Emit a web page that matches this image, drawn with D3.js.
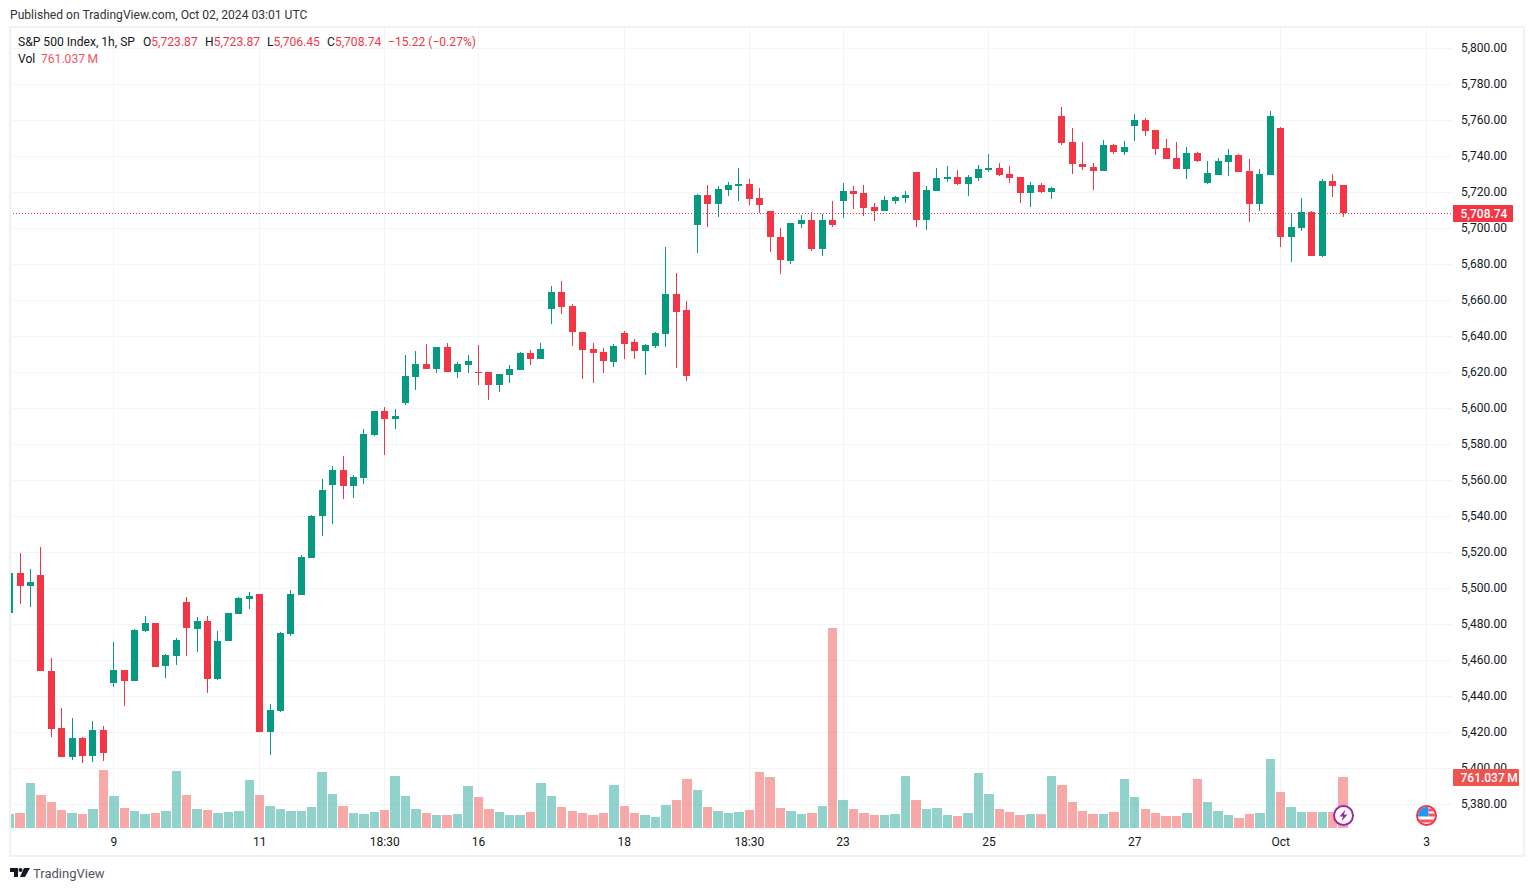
<!DOCTYPE html>
<html>
<head>
<meta charset="utf-8">
<script src="https://cdn.jsdelivr.net/npm/d3@7/dist/d3.min.js"></script>
<style>
  html, body { margin: 0; padding: 0; background: #fff; }
  svg { display: block; }
  text { font-family: Roboto, "Noto Sans", sans-serif; }
</style>
</head>
<body>
<svg width="1534" height="891"></svg>
<script>
// hourly candles
const opens = [
  5486.3,5508.5,5501.3,5507.4,5454.1,5422.4,5406.3,5416.8,5406.8,5421.3,
  5447.4,5454.6,5448.5,5476.3,5480.7,5456.8,5462.4,5492.4,5477.4,5481.8,
  5449.6,5470.7,5485.7,5494.1,5496.8,5420.2,5431.8,5474.6,5496.3,5516.8,
  5540.2,5557.4,5565.7,5556.8,5561.3,5585.2,5598.5,5594,5603,5617.4,
  5624.6,5621.8,5634.1,5620.2,5624.1,5620.2,5620.2,5612.9,5618.5,5621.3,
  5630.7,5627.4,5655.1,5664.6,5656.8,5642.3,5632.9,5631.2,5625.7,5641.8,
  5636.8,5631.8,5634.6,5641.2,5663.5,5654.6,5701.8,5718.5,5713.5,5721.2,
  5723.5,5724.6,5716.8,5709.6,5695.2,5681.9,5702.4,5704.6,5688.5,5704.6,
  5715.2,5720.7,5719.6,5711.9,5709.6,5715.2,5716.9,5731.3,5704.6,5720.7,
  5727.4,5728.5,5724.6,5728,5732.4,5733.5,5730.2,5728.5,5719.6,5724.1,
  5720.2,5762.4,5748,5735.7,5734.1,5731.9,5746.3,5742.4,5756.9,5760.2,
  5754.6,5744.6,5739.1,5733,5741.9,5725.2,5729.6,5736.9,5740.7,5731.9,
  5713.5,5729.6,5755.7,5695.2,5700.2,5709.1,5684.6,5726.3,5723.87
];
const highs = [
  5508.5,5519.6,5510.7,5523,5461.3,5433.5,5428,5417.4,5426.3,5423.5,
  5470.2,5454.6,5477.4,5484.6,5480.7,5463.5,5472.4,5495.2,5484.1,5484.6,
  5476.3,5486.3,5495.2,5498,5496.8,5435.7,5475.7,5499,5518.5,5540.7,
  5560.7,5568,5573.5,5563,5588.5,5598.5,5600.7,5599.6,5629.6,5631.8,
  5635.7,5634.1,5636.3,5625.7,5629.6,5635.2,5620.2,5619,5624,5631.3,
  5632.4,5636.3,5667.9,5670.7,5657.9,5642.3,5636.2,5633.4,5635.7,5642.9,
  5638.5,5635.7,5642.3,5689.6,5675.1,5659.6,5719,5724,5723.5,5725.7,
  5733.5,5727.3,5722.3,5709.6,5700.2,5703,5707.4,5709.1,5708,5715.2,
  5725.2,5723.5,5724.1,5714.1,5718,5718,5720.7,5731.3,5723.5,5733.5,
  5734.6,5732.4,5729.6,5735.2,5741.3,5736.3,5734.6,5728.5,5725.7,5725.2,
  5723,5767.4,5755.7,5748,5736.3,5749.1,5746.9,5748.5,5763.5,5761.3,
  5754.6,5749.6,5748,5745.2,5742.4,5737.4,5739.1,5744.1,5741.3,5738.5,
  5733,5765.2,5756.3,5708.3,5716.9,5709.6,5727.4,5730.2,5723.87
];
const lows = [
  5486.3,5491.3,5489.6,5454.1,5417.4,5406.3,5404.6,5403,5403.5,5404,
  5445.2,5434.6,5448.5,5475.7,5456.3,5450.2,5457.4,5462.4,5464.6,5441.9,
  5449.1,5470.7,5485.7,5488.5,5420.2,5407.4,5431.3,5473.5,5496.3,5516.8,
  5529.1,5535.7,5549.6,5550.2,5558,5584.6,5574.1,5588.5,5601.8,5610.2,
  5621.8,5619.6,5620.2,5616.8,5619.6,5612.9,5604.6,5609.1,5614.1,5621.3,
  5624.1,5627.4,5646.8,5652.3,5634.6,5616.2,5614,5619.6,5622.9,5627.3,
  5627.3,5618.5,5633.5,5634,5622.3,5615.1,5686.2,5700.7,5706.2,5717.9,
  5715.1,5712.9,5708.3,5686.8,5674.6,5680.2,5700.2,5687.4,5684.6,5700.7,
  5705.7,5710.7,5706.9,5704.1,5709.6,5713.5,5714.1,5700.7,5699.1,5720.7,
  5725.7,5724.1,5718,5726.3,5731.3,5729.1,5725.2,5714.1,5711.9,5719.6,
  5716.3,5746.3,5730.2,5732.4,5721.3,5731.9,5741.3,5740.7,5748.5,5751.3,
  5740.7,5738.5,5733,5727.4,5736.9,5724.6,5729.6,5729.1,5731.3,5703.5,
  5709.6,5729.6,5689.6,5681.3,5698.5,5684.6,5684.1,5717.4,5706.45
];
const closes = [
  5508.5,5501.3,5503.5,5454.1,5421.8,5406.3,5416.8,5406.8,5421.3,5408.5,
  5454.6,5448.5,5476.8,5480.7,5456.3,5463,5471.3,5478,5481.8,5449.6,
  5470.7,5486.3,5494.6,5495.7,5420.2,5432.4,5475.2,5496.8,5517.4,5540.2,
  5554.6,5565.7,5556.8,5561.8,5585.7,5598.5,5594,5595.7,5618,5624.6,
  5621.8,5634.1,5620.2,5624.6,5626.3,5619.6,5612.9,5619,5621.8,5630.7,
  5627.4,5632.9,5664.6,5656.2,5642.3,5632.3,5630.7,5626.2,5634.6,5635.7,
  5631.8,5635.1,5641.8,5663.5,5653.5,5617.9,5718.5,5713.5,5721.8,5724,
  5724.6,5716.2,5712.9,5695.1,5682.4,5703,5704.6,5688.5,5704.6,5701.9,
  5720.7,5719.1,5711.3,5709.6,5715.7,5717.4,5718.5,5704.6,5721.3,5728,
  5728.5,5724.6,5728.5,5733,5733.5,5729.6,5728,5719.6,5724.1,5720.2,
  5722.4,5747.4,5735.7,5734.1,5731.9,5746.3,5742.4,5745.2,5760.2,5754.1,
  5744.1,5738.5,5733,5741.9,5737.4,5730.7,5737.4,5740.7,5731.3,5713.5,
  5730.2,5762.4,5695.2,5700.7,5709.1,5684.6,5726.3,5723.5,5708.74
];
// volume in millions
const volumes = [
  210,225,675,495,390,270,225,210,285,870,
  480,300,255,210,225,255,855,495,285,270,
  225,240,255,720,495,330,285,255,255,315,
  840,510,330,225,210,240,270,780,480,285,
  225,195,195,210,630,465,285,240,195,195,
  240,675,480,315,255,225,195,225,645,330,
  225,195,165,345,420,735,570,315,255,225,
  240,270,840,765,300,255,210,225,330,2985,
  420,285,225,195,195,210,780,420,285,300,
  195,180,225,825,510,285,240,195,210,210,
  780,645,390,255,210,210,240,735,465,285,
  225,180,180,225,735,390,255,195,150,210,
  225,1035,540,315,240,240,240,240,761.037
];

const priceTicks = d3.range(5380, 5801, 20);
const timeTickIndex = [10, 24, 36, 45, 59, 71, 80, 94, 108, 122, 136];
const timeTickLabels = ["9", "11", "18:30", "16", "18", "18:30", "23", "25", "27", "Oct", "3"];

const lastClose = 5708.74;
const lastVolume = 761.037;

const green = "#089981";
const red = "#f23645";
const volGreen = "#26a69a";
const volRed = "#ef5350";
const frameColor = "#f0f0f5";
const gridColor = "#f3f4f6";

const svg = d3.select("svg");

const x = d3.scaleLinear().domain([10, 136]).range([113.3, 1426]);
const y = d3.scaleLinear().domain([5400, 5720]).range([768.3, 192.3]);
const yVol = d3.scaleLinear().domain([0, lastVolume]).range([828, 777]);

// everything snaps to whole pixels, like the original canvas
const col = (i) => Math.round(x(i));
const row = (p) => Math.round(y(p));

svg.append("defs").append("clipPath").attr("id", "pane")
  .append("rect").attr("x", 10).attr("y", 27).attr("width", 1442).attr("height", 801);

// title above the frame
svg.append("text").attr("x", 10).attr("y", 19)
  .attr("font-size", 12.1).attr("fill", "#333").text("Published on TradingView.com, Oct 02, 2024 03:01 UTC");

// grid
const grid = svg.append("g");
grid.selectAll("line.h").data(priceTicks).join("line").attr("class", "h")
  .attr("x1", 11).attr("x2", 1452)
  .attr("y1", (d) => Math.floor(y(d)) + 0.5).attr("y2", (d) => Math.floor(y(d)) + 0.5)
  .attr("stroke", gridColor).attr("stroke-width", 1);
grid.selectAll("line.v").data(timeTickIndex).join("line").attr("class", "v")
  .attr("x1", (d) => col(d) + 0.5).attr("x2", (d) => col(d) + 0.5)
  .attr("y1", 28).attr("y2", 828)
  .attr("stroke", gridColor).attr("stroke-width", 1);

const pane = svg.append("g").attr("clip-path", "url(#pane)");

// volume bars
pane.selectAll("rect.vol").data(volumes).join("rect").attr("class", "vol")
  .attr("x", (d, i) => Math.round(x(i) - 4.2))
  .attr("width", (d, i) => Math.round(x(i) + 5.2) - Math.round(x(i) - 4.2))
  .attr("y", (d) => Math.round(yVol(d)))
  .attr("height", (d) => 828 - Math.round(yVol(d)))
  .attr("fill", (d, i) => (closes[i] >= opens[i] ? volGreen : volRed))
  .attr("fill-opacity", 0.5);

// last price line
pane.append("line")
  .attr("x1", 10).attr("x2", 1452)
  .attr("y1", row(lastClose) + 0.5).attr("y2", row(lastClose) + 0.5)
  .attr("stroke", red).attr("stroke-width", 1).attr("stroke-dasharray", "1 2");

// candles
const candle = pane.selectAll("g.candle").data(opens).join("g").attr("class", "candle")
  .attr("fill", (d, i) => (closes[i] >= opens[i] ? green : red));
candle.append("rect")
  .attr("x", (d, i) => col(i))
  .attr("width", 1)
  .attr("y", (d, i) => row(highs[i]))
  .attr("height", (d, i) => row(lows[i]) - row(highs[i]));
candle.append("rect")
  .attr("x", (d, i) => col(i) - 3)
  .attr("width", 7)
  .attr("y", (d, i) => row(Math.max(opens[i], closes[i])))
  .attr("height", (d, i) => Math.max(1, Math.abs(row(opens[i]) - row(closes[i]))));

// price axis
const yAxis = d3.axisRight(y)
  .tickValues(priceTicks)
  .tickSize(0)
  .tickPadding(0)
  .tickFormat(d3.format(",.2f"));
const yAxisG = svg.append("g").attr("transform", "translate(1461,-1)").call(yAxis);
yAxisG.select(".domain").remove();
yAxisG.selectAll("text").attr("font-size", 12).attr("fill", "#131722")
  .style("font-family", "Roboto, sans-serif");

// time axis
const xAxis = d3.axisBottom(x)
  .tickValues(timeTickIndex)
  .tickSize(0)
  .tickPadding(0)
  .tickFormat((d, i) => timeTickLabels[i]);
const xAxisG = svg.append("g").attr("transform", "translate(0,837)").call(xAxis);
xAxisG.select(".domain").remove();
xAxisG.selectAll("text").attr("font-size", 12).attr("fill", "#131722")
  .style("font-family", "Roboto, sans-serif");

// price + volume badges
svg.append("rect").attr("x", 1453).attr("y", 205).attr("width", 60).attr("height", 17)
  .attr("rx", 1).attr("fill", red);
svg.append("text").attr("x", 1460.5).attr("y", 217.5)
  .attr("font-size", 12).attr("font-weight", 500).attr("fill", "#fff").text(d3.format(",.2f")(lastClose));

svg.append("rect").attr("x", 1453).attr("y", 769).attr("width", 66).attr("height", 17)
  .attr("rx", 1).attr("fill", volRed);
svg.append("text").attr("x", 1460.5).attr("y", 781.5)
  .attr("font-size", 12).attr("font-weight", 500).attr("fill", "#fff").text("761.037\u2009M");

// legend
const legend = svg.append("text").attr("x", 18).attr("y", 46).attr("font-size", 12.1).attr("fill", "#131722");
legend.append("tspan").text("S&P 500 Index, 1h, SP");
[
  ["O", "5,723.87", 143],
  ["H", "5,723.87", 205],
  ["L", "5,706.45", 267],
  ["C", "5,708.74", 327]
].forEach((p) => {
  legend.append("tspan").attr("x", p[2]).text(p[0]);
  legend.append("tspan").attr("fill", red).text(p[1]);
});
legend.append("tspan").attr("x", 388).attr("fill", red).text("\u221215.22 (\u22120.27%)");

const volLegend = svg.append("text").attr("x", 18).attr("y", 63).attr("font-size", 12.1).attr("fill", "#131722");
volLegend.append("tspan").text("Vol");
volLegend.append("tspan").attr("x", 41).attr("fill", "#f7525f").text("761.037\u2009M");

// frame
svg.append("rect").attr("x", 10).attr("y", 27).attr("width", 1514).attr("height", 829)
  .attr("fill", "none").attr("stroke", frameColor).attr("stroke-width", 2);

// lightning marker
const bolt = svg.append("g").attr("transform", `translate(${col(128) + 0.5},815.5)`);
bolt.append("circle").attr("r", 9.5).attr("fill", "#fff").attr("stroke", "#9c27b0").attr("stroke-width", 2);
bolt.append("path").attr("d", "M2,-6 L-4,1 L-0.5,1 L-2,6 L4,-1 L0.5,-1 Z").attr("fill", "#9c27b0");

// US flag marker
const flag = svg.append("g").attr("transform", `translate(${col(136) + 0.5},815.5)`);
svg.select("defs").append("clipPath").attr("id", "flagClip").append("circle").attr("r", 8.5);
flag.append("circle").attr("r", 9.5).attr("fill", "#fff").attr("stroke", "#f23645").attr("stroke-width", 2);
const flagInner = flag.append("g").attr("clip-path", "url(#flagClip)");
flagInner.append("rect").attr("x", 2).attr("y", -7).attr("width", 7).attr("height", 3).attr("fill", "#f7525f");
flagInner.append("rect").attr("x", 2).attr("y", -2).attr("width", 7).attr("height", 3).attr("fill", "#f7525f");
flagInner.append("rect").attr("x", -9).attr("y", 4).attr("width", 18).attr("height", 3).attr("fill", "#f7525f");
flagInner.append("rect").attr("x", -9).attr("y", -9).attr("width", 11).attr("height", 10).attr("fill", "#2196f3");

// footer logo
const logo = svg.append("g").attr("transform", "translate(10,868)").attr("fill", "#131722");
logo.append("path").attr("d", "M0,0 H8 V9 H4 V4 H0 Z");
logo.append("circle").attr("cx", 10.5).attr("cy", 2).attr("r", 2);
logo.append("path").attr("d", "M14,0 H20 L15,9 H10 Z");
svg.append("text").attr("x", 33).attr("y", 878).attr("font-size", 13).attr("fill", "#50535e").text("TradingView");
</script>
</body>
</html>
